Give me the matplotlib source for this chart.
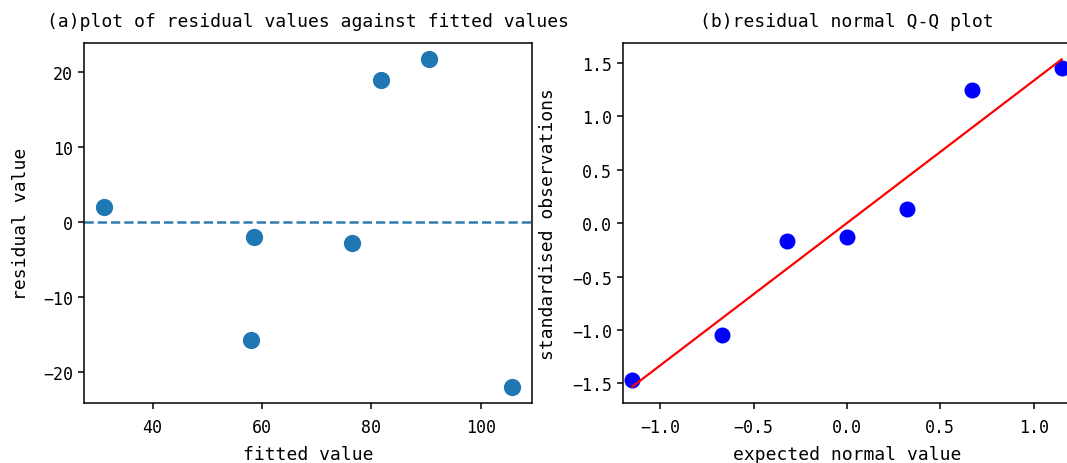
import matplotlib
matplotlib.use('Agg')
import matplotlib.pyplot as plt
import numpy as np

# 字体：参考图是黑体的等宽西文，这里用等宽无衬线代替
plt.rcParams['font.family'] = ['DejaVu Sans Mono', 'Noto Sans CJK SC']
plt.rcParams['axes.unicode_minus'] = True
plt.rcParams['axes.linewidth'] = 1.1
plt.rcParams['xtick.major.size'] = 4.5
plt.rcParams['ytick.major.size'] = 4.5
plt.rcParams['xtick.major.width'] = 1.1
plt.rcParams['ytick.major.width'] = 1.1
plt.rcParams['xtick.major.pad'] = 6.5

# 数据准备 (a) 残差 vs 拟合值
fitted = [31.2, 58.6, 57.9, 76.4, 81.7, 90.5, 105.6]
residuals = [2.0, -1.9, -15.7, -2.7, 18.9, 21.7, -21.9]

# (b) Q-Q 图
theoretical_q = [-1.15, -0.67, -0.32, 0.0, 0.32, 0.67, 1.15]
standardised = [-1.47, -1.05, -0.17, -0.13, 0.13, 1.25, 1.45]

fig = plt.figure(figsize=(10.67, 4.64), dpi=100)
ax1 = fig.add_axes([84 / 1067, 1 - 404 / 464, 448 / 1067, 360 / 464])
ax2 = fig.add_axes([623 / 1067, 1 - 404 / 464, 448 / 1067, 360 / 464])

# 残差散点
ax1.scatter(fitted, residuals, s=130, color='#1f77b4', zorder=3)
ax1.axhline(0, linestyle='--', color='#2f7bb0', linewidth=1.8)
ax1.set_title('(a)plot of residual values against fitted values', fontsize=13, pad=12)
ax1.set_xlabel('fitted value', fontsize=13, labelpad=6)
ax1.set_ylabel('residual value', fontsize=13, labelpad=9)
ax1.set_xticks([40, 60, 80, 100])
ax1.set_yticks([-20, -10, 0, 10, 20])
ax1.tick_params(labelsize=12)

# Q-Q 图 + 回归线
ax2.plot(theoretical_q, standardised, 'o', color='blue', markersize=10.5)
k, b = np.polyfit(theoretical_q, standardised, 1)
xq = np.array(theoretical_q)
ax2.plot(xq, k * xq + b, color='red', linewidth=1.6)
ax2.set_xlim(-1.2, 1.2)
ax2.set_title('(b)residual normal Q-Q plot', fontsize=13, pad=12)
ax2.set_xlabel('expected normal value', fontsize=13, labelpad=6)
ax2.set_ylabel('standardised observations', fontsize=13, labelpad=11)
ax2.set_xticks([-1.0, -0.5, 0.0, 0.5, 1.0])
ax2.set_yticks([-1.5, -1.0, -0.5, 0.0, 0.5, 1.0, 1.5])
ax2.tick_params(labelsize=12)

fig.savefig('out.png', dpi=100)
